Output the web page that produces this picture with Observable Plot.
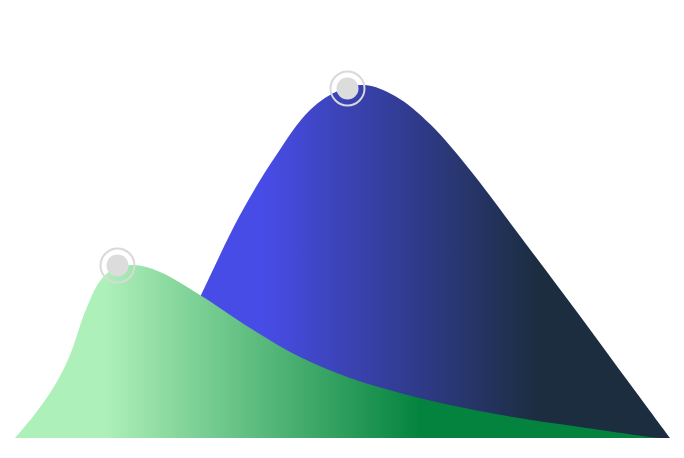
<!DOCTYPE html>
<html>
<head>
<meta charset="utf-8">
<script src="https://cdn.jsdelivr.net/npm/d3@7"></script>
<script src="https://cdn.jsdelivr.net/npm/@observablehq/plot@0.6"></script>
<style>
  html, body { margin: 0; padding: 0; background: #fff; }
  #chart svg { display: block; }
</style>
</head>
<body>
<div id="chart"></div>
<script>
// serie verde (al frente)
const greenX = [2.75, 7.75, 12.75, 16.5, 20.25, 24, 27.75, 32.75, 39, 49, 61.5, 74, 86.5, 99, 111.5, 127.25, 144, 161.5, 164]
const greenY = [0, 6, 13.25, 20.75, 31.5, 39.25, 42.5, 43.25, 41.5, 35.75, 27.5, 20.25, 15, 11.25, 8.25, 5.25, 2.75, 0.25, 0]

// serie azul (detras)
const blueX = [31, 40.25, 49.5, 59, 67.75, 76.5, 84, 90.25, 97.75, 106.5, 116.5, 129.75, 144, 156.5, 166.5]
const blueY = [0, 17, 36.25, 55.75, 70.25, 82, 87, 88.25, 85.5, 78.5, 67, 49.5, 30.5, 13.5, 0]

// puntos destacados
const markerX = [28.25, 85.75]
const markerY = [43.25, 87.5]

const green = greenX.map((x, i) => ({x, y: greenY[i]}))
const blue = blueX.map((x, i) => ({x, y: blueY[i]}))
const markers = markerX.map((x, i) => ({x, y: markerY[i]}))

// gradientes horizontales en coordenadas de la escala x
const gradients = (index, scales) => {
  const defs = d3.create('svg:defs')
  const g = defs.append('linearGradient')
      .attr('id', 'grad-green')
      .attr('gradientUnits', 'userSpaceOnUse')
      .attr('x1', scales.x(25.25)).attr('x2', scales.x(104))
      .attr('y1', 0).attr('y2', 0)
  g.append('stop').attr('offset', 0).attr('stop-color', '#aef0b9')
  g.append('stop').attr('offset', 1).attr('stop-color', '#04833f')
  const b = defs.append('linearGradient')
      .attr('id', 'grad-blue')
      .attr('gradientUnits', 'userSpaceOnUse')
      .attr('x1', scales.x(65.25)).attr('x2', scales.x(134))
      .attr('y1', 0).attr('y2', 0)
  b.append('stop').attr('offset', 0).attr('stop-color', '#484ce6')
  b.append('stop').attr('offset', 1).attr('stop-color', '#1b2d3f')
  return defs.node()
}

let chart = Plot.plot({
  width: 684,
  height: 458,
  marginLeft: 4,
  marginRight: 0,
  marginTop: 38,
  marginBottom: 20,
  x: {domain: [0, 170], axis: null},
  y: {domain: [0, 100], axis: null},
  marks: [
    gradients,
    Plot.areaY(blue, {x: 'x', y: 'y', curve: 'catmull-rom', fill: 'url(#grad-blue)'}),
    Plot.areaY(green, {x: 'x', y: 'y', curve: 'catmull-rom', fill: 'url(#grad-green)'}),
    Plot.dot(markers, {x: 'x', y: 'y', r: 17, stroke: '#d9d9d9', strokeWidth: 2, fill: 'none'}),
    Plot.dot(markers, {x: 'x', y: 'y', r: 11, fill: '#dcdcdc', stroke: 'none'}),
  ]
})

d3.select('#chart').append(() => chart)
</script>
</body>
</html>
